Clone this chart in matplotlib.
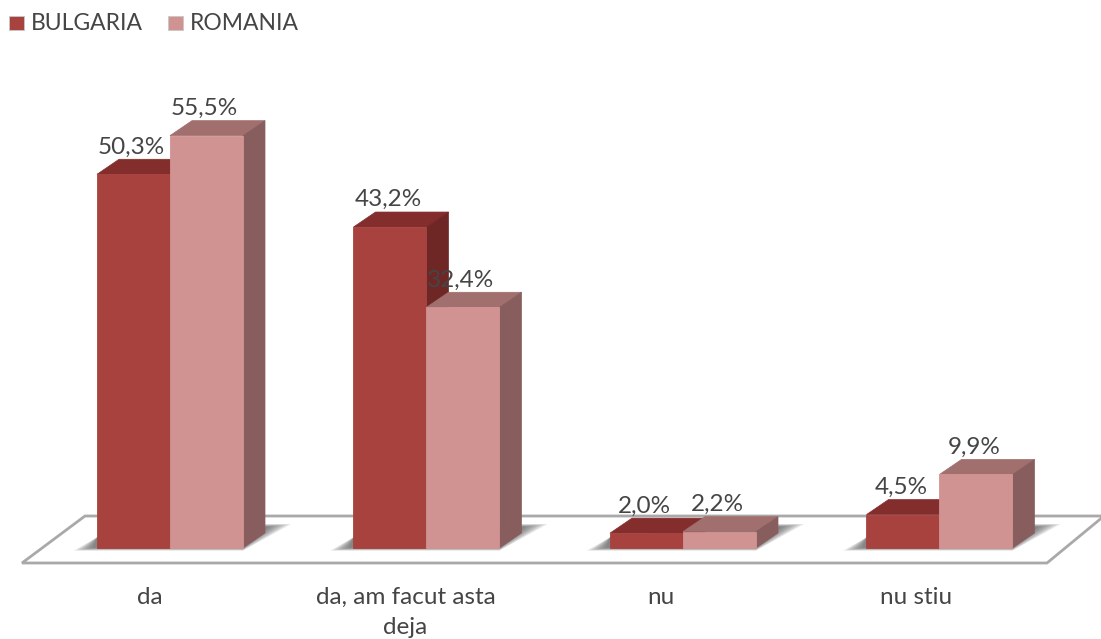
# -*- coding: UTF-8 -*-
import matplotlib
matplotlib.use('Agg')
import matplotlib.pyplot as plt
from matplotlib.patches import Polygon

categories = ['da', 'da, am facut asta\ndeja', 'nu', 'nu stiu']
bulgaria = [50.3, 43.2, 2.0, 4.5]
romania = [55.5, 32.4, 2.2, 9.9]
labels_bg = ['50,3%', '43,2%', '2,0%', '4,5%']
labels_ro = ['55,5%', '32,4%', '2,2%', '9,9%']
cat_shift_px = [-20, -21, -22, -23]

plt.rcParams['font.family'] = ['Lato', 'DejaVu Sans']
text_color = '#454545'

W, H = 1101, 639
px_per_cat = 256.5
px_per_pct = 7.43
x0_px = 170.0   # category 0 centre
y0_px = 548.0   # value 0
bar_w = 73 / px_per_cat
dx = 22 / px_per_cat
dy = 15 / px_per_pct

fig = plt.figure(figsize=(W / 100, H / 100), dpi=100)
ax = fig.add_axes([0, 0, 1, 1])
ax.set_xlim(-x0_px / px_per_cat, (W - x0_px) / px_per_cat)
ax.set_ylim(-(H - y0_px) / px_per_pct, y0_px / px_per_pct)
ax.axis('off')


def to_x(px):
    return (px - x0_px) / px_per_cat


def to_y(py):
    return (y0_px - py) / px_per_pct


# floor of the 3d chart
floor = [(to_x(22), to_y(563)), (to_x(1047), to_y(563)),
         (to_x(1104), to_y(516)), (to_x(85), to_y(516))]
ax.add_patch(Polygon(floor, closed=True, facecolor='white', edgecolor='#a9a9a9', lw=2, zorder=1))


def shadow(c):
    # soft shadow of one bar pair on the floor, stacked transparent layers
    left = c - bar_w
    right = c + bar_w
    top_y = to_y(524)
    for k in range(7):
        g = k * 3 / px_per_cat
        gy = k * 0.06
        pts = [(left - 23 / px_per_cat + g, -0.35 + gy), (right, -0.35 + gy),
               (right + dx + 26 / px_per_cat - g * 1.2, top_y - gy), (right + dx, top_y - gy),
               (right, top_y), (left, top_y - 1.8)]
        ax.add_patch(Polygon(pts, closed=True, facecolor='#404040', edgecolor='none', alpha=0.13, zorder=2))


def bar3d(left, value, front, top, side):
    right = left + bar_w
    ax.add_patch(Polygon([(left, value), (right, value), (right + dx, value + dy), (left + dx, value + dy)],
                         closed=True, facecolor=top, edgecolor=top, lw=0.5, zorder=3))
    ax.add_patch(Polygon([(right, 0), (right + dx, dy), (right + dx, value + dy), (right, value)],
                         closed=True, facecolor=side, edgecolor=side, lw=0.5, zorder=3))
    ax.bar(left, value, width=bar_w, align='edge', color=front, edgecolor=front, lw=0.6, zorder=4)


for i in range(len(categories)):
    shadow(i)

label_gap = 2.26
for i in range(len(categories)):
    bar3d(i - bar_w, bulgaria[i], '#a8423f', '#832e2c', '#6e2725')
    bar3d(i, romania[i], '#d19392', '#a06f6e', '#875e5d')
    ax.text(i - bar_w / 2 - 2 / px_per_cat, bulgaria[i] + label_gap, labels_bg[i], ha='center', va='bottom',
            fontsize=17.5, color=text_color, zorder=6)
    ax.text(i + bar_w / 2 - 2 / px_per_cat, romania[i] + label_gap, labels_ro[i], ha='center', va='bottom',
            fontsize=17.5, color=text_color, zorder=6)
    ax.text(i + cat_shift_px[i] / px_per_cat, to_y(587), categories[i],
            ha='center', va='top', fontsize=17.5, color=text_color, linespacing=1.55, zorder=6)

# legend drawn by hand to keep the small marker look
for name, colr, xs in [('BULGARIA', '#a8423f', 9), ('ROMANIA', '#d19392', 168)]:
    ax.add_patch(Polygon([(to_x(xs), to_y(16)), (to_x(xs + 15), to_y(16)), (to_x(xs + 15), to_y(30)), (to_x(xs), to_y(30))],
                         closed=True, facecolor=colr, edgecolor='#c8c8c8', lw=0.6, zorder=6))
    ax.text(to_x(xs + 22), to_y(23), name, ha='left', va='center', fontsize=16.5, color=text_color, zorder=6)

plt.savefig('out.png', dpi=100)
